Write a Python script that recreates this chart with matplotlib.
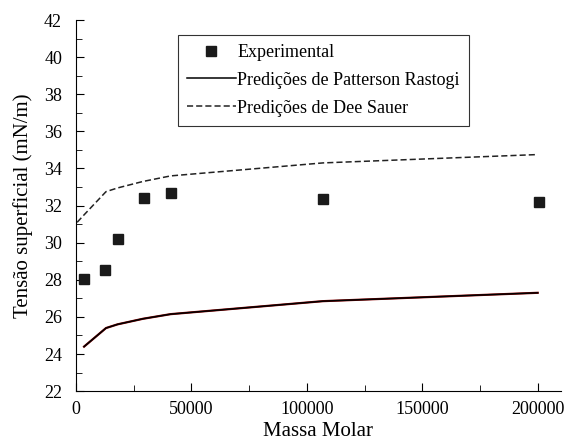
import matplotlib
matplotlib.use('Agg')
import matplotlib.pyplot as plt
from matplotlib.ticker import MultipleLocator

plt.rcParams['font.family'] = ['Liberation Serif', 'DejaVu Serif']

# experimental data
massa_exp = [3500, 12500, 18300, 29300, 41300, 107000, 200400]
tensao_exp = [28.02, 28.52, 30.2, 32.42, 32.67, 32.33, 32.17]

# Patterson Rastogi predictions
massa_pr = [3500, 13000, 18000, 29000, 41000, 107000, 200000]
tensao_pr = [24.4, 25.4, 25.6, 25.9, 26.15, 26.85, 27.3]

# Dee Sauer predictions
massa_ds = [500, 3500, 13000, 18000, 29000, 41000, 107000, 200000]
tensao_ds = [31.1, 31.5, 32.75, 32.95, 33.3, 33.6, 34.3, 34.75]

fig = plt.figure(figsize=(5.67, 4.45), dpi=100)
ax = fig.add_axes([0.134, 0.121, 0.855, 0.834])

ax.plot(massa_exp, tensao_exp, 's', color='#1a1a1a', markersize=7, label='Experimental')
ax.plot(massa_pr, tensao_pr, '-', color='#8b0000', lw=1.6)
ax.plot(massa_pr, tensao_pr, '-', color='black', lw=1.1, label='Predições de Patterson Rastogi')
ax.plot(massa_ds, tensao_ds, '--', color='#222222', lw=1.1, dashes=(4, 2),
        label='Predições de Dee Sauer')

ax.set_xlim(0, 210000)
ax.set_ylim(22, 42)
ax.xaxis.set_major_locator(MultipleLocator(50000))
ax.xaxis.set_minor_locator(MultipleLocator(25000))
ax.yaxis.set_major_locator(MultipleLocator(2))
ax.yaxis.set_minor_locator(MultipleLocator(1))
ax.tick_params(which='both', direction='in', labelsize=13)
ax.tick_params(axis='x', pad=7)
ax.tick_params(axis='y', pad=10)
ax.tick_params(which='major', length=6)
ax.tick_params(which='minor', length=4)

ax.spines['top'].set_visible(False)
ax.spines['right'].set_visible(False)

ax.set_xlabel('Massa Molar', fontsize=15, labelpad=3)
ax.set_ylabel('Tensão superficial (mN/m)', fontsize=15, labelpad=8)

leg = ax.legend(loc='upper left', bbox_to_anchor=(0.21, 0.96), fontsize=13,
                frameon=True, fancybox=False, edgecolor='black',
                handlelength=2.7, handletextpad=0.1, borderpad=0.5,
                labelspacing=0.6, borderaxespad=0)
leg.get_frame().set_linewidth(0.8)

plt.savefig('out.png', dpi=100)
